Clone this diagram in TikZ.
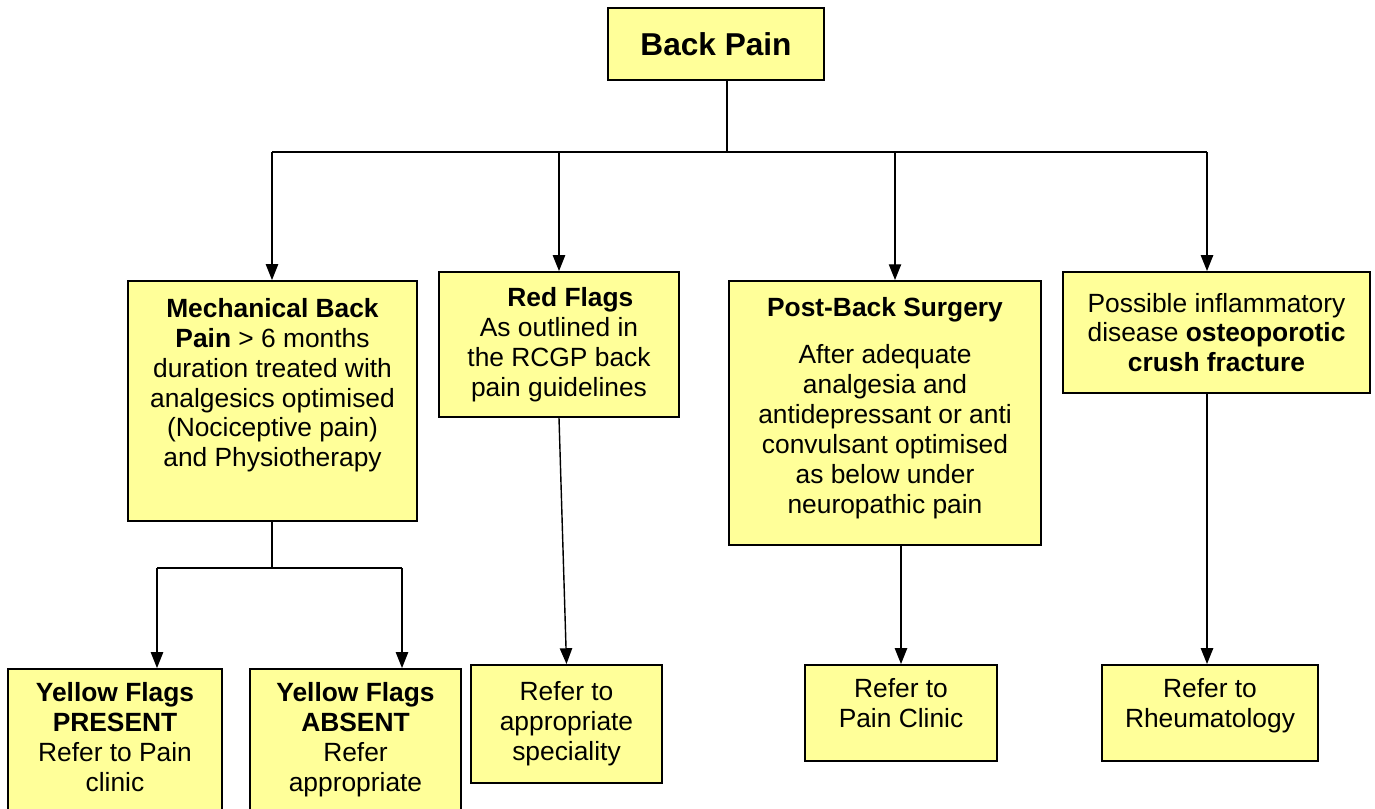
\documentclass[tikz,border=0pt]{standalone}
\usepackage{fontspec}
\setmainfont{Liberation Sans}
\usetikzlibrary{arrows.meta}
\definecolor{flowyellow}{HTML}{FFFF99}
\begin{document}
\begin{tikzpicture}[x=0.02cm,y=-0.02cm,>={Triangle[length=9pt,width=7pt]},
    box/.style={draw,line width=1.1pt,fill=flowyellow,align=center,inner sep=2pt,
      font=\fontsize{15}{17}\selectfont},
    link/.style={line width=0.8pt}]
    \useasboundingbox (0,0) rectangle (1375,808);
    \clip (0,0) rectangle (1375,808);
    \node [box,minimum width=4.32cm,minimum height=1.44cm,font=\fontsize{18}{21}\selectfont\bfseries] (back) at (716,44) {Back Pain};
    \node [box,minimum width=5.78cm,minimum height=4.8cm] (mech) at (272.5,401) {\textbf{Mechanical Back}\\ \textbf{Pain} > 6 months\\ duration treated with\\ analgesics optimised\\ (Nociceptive pain)\\ and Physiotherapy\\[4pt]\mbox{}};
    \node [box,minimum width=4.8cm,minimum height=2.9cm] (red) at (559,344.5) {\hspace*{13pt}\textbf{Red Flags}\\ As outlined in\\ the RCGP back\\ pain guidelines};
    \node [box,minimum width=6.24cm,minimum height=5.28cm] (post) at (885,413) {\textbf{Post-Back Surgery}\\[10pt] After adequate\\ analgesia and\\ antidepressant or anti\\ convulsant optimised\\ as below under\\ neuropathic pain\\[-8pt]\mbox{}};
    \node [box,minimum width=6.14cm,minimum height=2.42cm] (infl) at (1216.5,332.5) {Possible inflammatory\\ disease \textbf{osteoporotic}\\ \textbf{crush fracture}};
    \node [box,minimum width=4.28cm,minimum height=3.62cm] (ypres) at (115,759.5) {\textbf{Yellow Flags}\\ \textbf{PRESENT}\\ Refer to Pain\\ clinic\\[9pt]\mbox{}};
    \node [box,minimum width=4.22cm,minimum height=3.62cm] (yabs) at (355.5,759.5) {\textbf{Yellow Flags}\\ \textbf{ABSENT}\\ Refer\\ appropriate\\[9pt]\mbox{}};
    \node [box,minimum width=3.82cm,minimum height=2.36cm] (spec) at (566.5,724) {Refer to\\ appropriate\\ speciality};
    \node [box,minimum width=3.84cm,minimum height=1.92cm] (painc) at (901,713) {Refer to\\ Pain Clinic\\[-6pt]\mbox{}};
    \node [box,minimum width=4.32cm,minimum height=1.92cm] (rheum) at (1210,713) {Refer to\\ Rheumatology\\[-6pt]\mbox{}};
    \coordinate (split) at (727,152);
    \coordinate (b1) at (272,152);
    \coordinate (b2) at (559,152);
    \coordinate (b3) at (895,152);
    \coordinate (b4) at (1207,152);
    \coordinate (m0) at (272,568);
    \coordinate (m1) at (157,568);
    \coordinate (m2) at (402,568);
    \draw [link] (back.south -| split) -- (split);
    \draw [link] (b1) -- (b4);
    \draw [link,->] (b1) -- (b1 |- mech.north);
    \draw [link,->] (b2) -- (b2 |- red.north);
    \draw [link,->] (b3) -- (b3 |- post.north);
    \draw [link,->] (b4) -- (b4 |- infl.north);
    \draw [link] (mech.south -| m0) -- (m0);
    \draw [link] (m1) -- (m2);
    \draw [link,->] (m1) -- (m1 |- ypres.north);
    \draw [link,->] (m2) -- (m2 |- yabs.north);
    \draw [link,->] (red.south) -- (spec.north);
    \draw [link,->] (post.south -| painc.north) -- (painc.north);
    \draw [link,->] (infl.south -| b4) -- (b4 |- rheum.north);
  \end{tikzpicture}
\end{document}
